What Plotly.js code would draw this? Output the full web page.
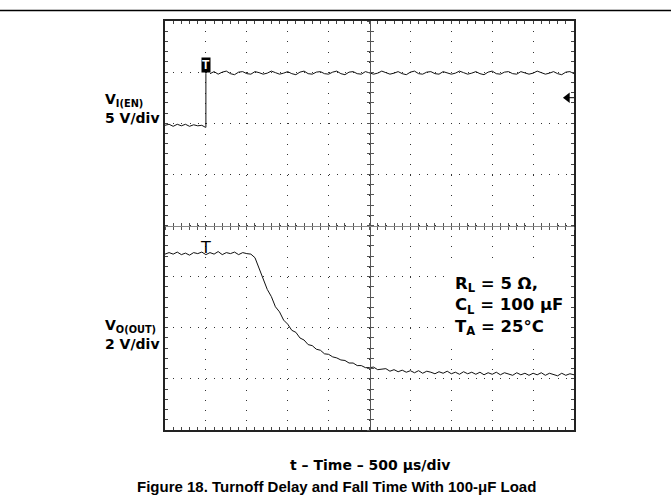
<!DOCTYPE html>
<html>
<head>
<meta charset="utf-8">
<script src="https://cdn.plot.ly/plotly-3.0.1.min.js"></script>
<style>html,body{margin:0;padding:0;background:#fff;}#chart{width:671px;height:504px;}</style>
</head>
<body>
<div id="chart"></div>
<script>
// ---- data (time in µs, signal level in screen divisions) ----
const enLowTime = [0, 50, 100, 150, 200, 250, 300, 350, 400, 450, 495, 500, 500];
const enLowDiv  = [5.96, 5.98, 5.94, 5.98, 5.95, 5.98, 5.94, 5.97, 5.95, 5.96, 5.92, 5.92, 6.98];
const enHighStart = 550;   // µs
const enHighStep = 50;     // µs
const enHighDiv = [
  6.97,7.01,6.96,7.00,7.02,6.97,6.95,7.00,7.01,6.97,
  6.96,7.01,6.99,6.96,6.98,7.02,6.99,6.96,6.98,7.01,
  6.97,6.95,7.00,7.02,6.97,6.96,7.00,7.01,6.97,6.96,
  7.00,7.02,6.97,6.95,7.00,7.01,6.97,6.96,7.01,6.99,
  6.96,6.98,7.02,6.99,6.96,6.98,7.01,6.97,6.95,7.00,
  7.02,6.97,6.96,7.00,7.01,6.97,6.96,7.01,6.99,6.96,
  6.98,7.02,6.99,6.96,6.98,7.01,6.97,6.95,7.00,7.02,
  6.97,6.96,7.00,7.01,6.97,6.96,7.01,6.99,6.96,6.98,
  7.02,6.99,6.96,6.98,7.01,6.97,6.95,7.00,7.01,6.97
];
const outStart = 0;   // µs
const outStep = 50;   // µs
const outDiv = [
  3.44,3.47,3.44,3.48,3.43,3.46,3.42,3.47,3.45,3.48,
  3.43,3.47,3.44,3.49,3.43,3.47,3.45,3.48,3.43,3.47,
  3.45,3.44,
  3.37,3.16,2.97,2.75,2.61,2.41,2.31,2.15,2.07,1.95,
  1.91,1.80,1.76,1.67,1.65,1.58,1.56,1.49,1.48,1.43,
  1.41,1.37,1.36,1.31,1.31,1.26,1.26,1.22,1.22,1.23,
  1.18,1.19,1.20,1.15,1.18,1.14,1.17,1.13,1.16,1.12,
  1.16,1.11,1.15,1.13,1.10,1.14,1.11,1.15,1.10,1.13,
  1.09,1.14,1.10,1.13,1.09,1.13,1.08,1.12,1.09,1.13,
  1.08,1.12,1.09,1.07,1.12,1.08,1.11,1.07,1.11,1.08,
  1.12,1.07,1.11,1.08,1.06,1.11,1.07,1.10,1.08
];
const timeRange = [0, 5000];
const divRange = [0, 8];
const conditions = ['R<sub>L</sub> = 5 Ω,', 'C<sub>L</sub> = 100 μF', 'T<sub>A</sub> = 25°C'];

// ---- layout helpers (pixel -> paper) ----
const L = 165, R = 574, T = 21, B = 430;
const px = v => (v - L) / (R - L);
const py = v => (B - v) / (B - T);
const FONT = 'Liberation Sans, Arial, Helvetica, sans-serif';
const FIG = 'DejaVu Sans, Verdana, sans-serif';

const lineStyle = {color: '#111', width: 1};
const traces = [
  {type: 'scatter', mode: 'lines', x: enLowTime, y: enLowDiv, line: lineStyle, hoverinfo: 'skip'},
  {type: 'scatter', mode: 'lines', x0: enHighStart, dx: enHighStep, y: enHighDiv, line: lineStyle, hoverinfo: 'skip'},
  {type: 'scatter', mode: 'lines', x0: outStart, dx: outStep, y: outDiv, line: lineStyle, hoverinfo: 'skip'},
  // carriers for the centre graticule axes
  {type: 'scatter', mode: 'markers', x: [null], y: [null], xaxis: 'x2', yaxis: 'y', hoverinfo: 'skip'},
  {type: 'scatter', mode: 'markers', x: [null], y: [null], xaxis: 'x3', yaxis: 'y', hoverinfo: 'skip'},
  {type: 'scatter', mode: 'markers', x: [null], y: [null], xaxis: 'x', yaxis: 'y2', hoverinfo: 'skip'},
  {type: 'scatter', mode: 'markers', x: [null], y: [null], xaxis: 'x', yaxis: 'y3', hoverinfo: 'skip'},
  // reference-level marker on the right edge
  {type: 'scatter', mode: 'markers', x: [4920], y: [6.5], hoverinfo: 'skip',
   marker: {symbol: 'triangle-left', size: 9, color: '#000', line: {width: 0}}}
];

const centreX = side => ({
  overlaying: 'x', anchor: 'free', position: 0.5, range: timeRange, dtick: 100, tick0: 0,
  ticks: side, ticklen: 3, tickcolor: '#555', tickwidth: 1,
  showline: true, linecolor: '#8a8a8a', linewidth: 1,
  showgrid: false, zeroline: false, showticklabels: false, fixedrange: true
});
const centreY = side => ({
  overlaying: 'y', anchor: 'free', position: 0.5, range: divRange, dtick: 0.2, tick0: 0,
  ticks: side, ticklen: 3, tickcolor: '#555', tickwidth: 1,
  showline: true, linecolor: '#555', linewidth: 1,
  showgrid: false, zeroline: false, showticklabels: false, fixedrange: true
});

const labelFont = {family: FIG, size: 14, color: '#000'};
const condFont = {family: FIG, size: 16.5, color: '#000'};
const layout = {
  width: 671, height: 504,
  margin: {l: L, r: 671 - R, t: T, b: 504 - B, pad: 0},
  paper_bgcolor: '#fff', plot_bgcolor: '#fff',
  showlegend: false,
  xaxis: {
    range: timeRange, dtick: 500, tick0: 0,
    showgrid: true, gridcolor: '#333', gridwidth: 1, griddash: '1px,9.24px',
    zeroline: false, showline: true, linecolor: '#222', linewidth: 2, mirror: 'allticks',
    ticks: 'inside', ticklen: 3, tickcolor: '#444', showticklabels: false, fixedrange: true,
    minor: {dtick: 100, tick0: 0, ticks: 'inside', ticklen: 3, tickcolor: '#444', showgrid: false}
  },
  yaxis: {
    range: divRange, dtick: 1, tick0: 0,
    showgrid: true, gridcolor: '#333', gridwidth: 1, griddash: '1px,7.18px',
    zeroline: false, showline: true, linecolor: '#222', linewidth: 2, mirror: 'allticks',
    ticks: 'inside', ticklen: 3, tickcolor: '#444', showticklabels: false, fixedrange: true,
    minor: {dtick: 0.2, tick0: 0, ticks: 'inside', ticklen: 3, tickcolor: '#444', showgrid: false}
  },
  xaxis2: centreX('outside'),
  xaxis3: centreX('inside'),
  yaxis2: centreY('outside'),
  yaxis3: centreY('inside'),
  shapes: [
    {type: 'line', xref: 'paper', yref: 'paper', x0: px(0), x1: px(671), y0: py(10.5), y1: py(10.5),
     line: {color: '#000', width: 1.5}},
    {type: 'line', xref: 'x', yref: 'y', x0: 4920, x1: 5000, y0: 6.5, y1: 6.5,
     line: {color: '#000', width: 1}}
  ],
  annotations: [
    // channel labels
    {xref: 'paper', yref: 'paper', x: px(103), y: py(100), xanchor: 'left', yanchor: 'middle', showarrow: false,
     text: '<b>V<sub>I(EN)</sub></b>', font: labelFont},
    {xref: 'paper', yref: 'paper', x: px(103), y: py(118), xanchor: 'left', yanchor: 'middle', showarrow: false,
     text: '<b>5 V/div</b>', font: labelFont},
    {xref: 'paper', yref: 'paper', x: px(103), y: py(326), xanchor: 'left', yanchor: 'middle', showarrow: false,
     text: '<b>V<sub>O(OUT)</sub></b>', font: labelFont},
    {xref: 'paper', yref: 'paper', x: px(103), y: py(344), xanchor: 'left', yanchor: 'middle', showarrow: false,
     text: '<b>2 V/div</b>', font: labelFont},
    // conditions (on a white panel that hides the graticule)
    {xref: 'paper', yref: 'paper', x: px(447), y: py(306), xanchor: 'left', yanchor: 'middle', showarrow: false,
     align: 'left', text: '<b>' + conditions.join('<br>') + '</b>', font: condFont,
     bgcolor: '#fff', borderpad: 7},
    // trigger markers
    {xref: 'x', yref: 'y', x: 500, y: 6.99, xanchor: 'center', yanchor: 'bottom', showarrow: false,
     text: '<b>T</b>', font: {family: FONT, size: 12, color: '#fff'}, bgcolor: '#000', borderpad: 0},
    {xref: 'x', yref: 'y', x: 500, y: 3.37, xanchor: 'center', yanchor: 'bottom', showarrow: false,
     text: 'T', font: {family: FIG, size: 16, color: '#000'}, borderpad: 0},
    // axis label and caption
    {xref: 'paper', yref: 'paper', x: px(370), y: py(465), xanchor: 'center', yanchor: 'middle', showarrow: false,
     text: '<b>t – Time – 500 μs/div</b>', font: {family: FIG, size: 14, color: '#000'}},
    {xref: 'paper', yref: 'paper', x: px(336), y: py(486), xanchor: 'center', yanchor: 'middle', showarrow: false,
     text: '<b>Figure 18. Turnoff Delay and Fall Time With 100-μF Load</b>', font: {family: FONT, size: 15, color: '#000'}}
  ]
};

Plotly.newPlot('chart', traces, layout, {staticPlot: true, displayModeBar: false});
</script>
</body>
</html>
